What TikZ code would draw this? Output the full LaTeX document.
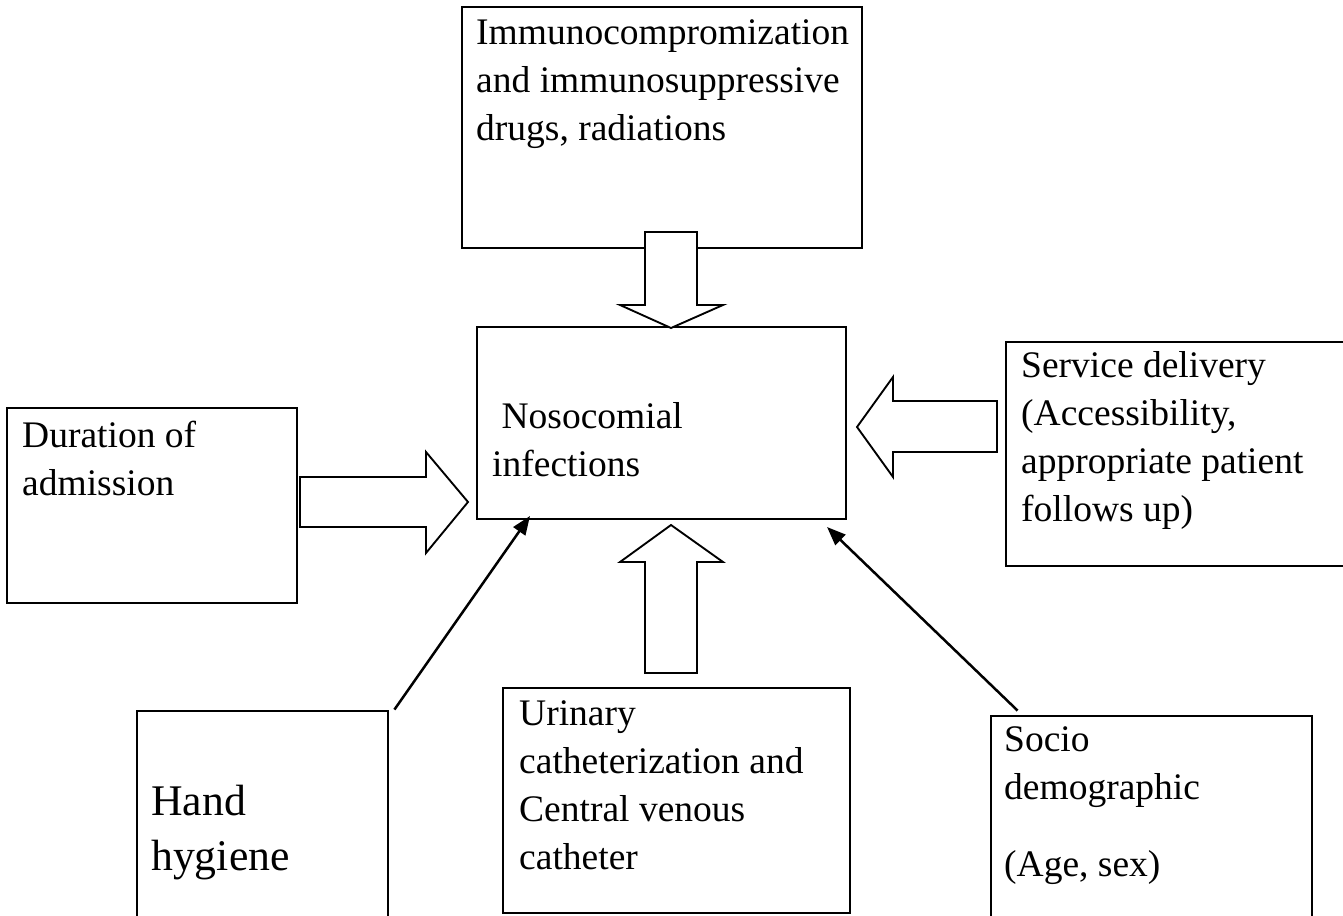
\documentclass[tikz,border=0pt]{standalone}
\usepackage{fontspec}
\setmainfont{Liberation Serif}
\usetikzlibrary{fit,arrows.meta}

\tikzset{
  factor/.style={draw, line width=0.9pt, inner sep=0pt},
  boxtext/.style={anchor=base west, inner sep=0pt, font=\fontsize{12}{15.4}\selectfont},
  bigtext/.style={boxtext, font=\fontsize{14}{17.6}\selectfont},
  hollow/.style={draw, fill=white, line width=0.6pt, line join=miter},
  pointer/.style={line width=0.8pt, -{Triangle[length=6pt,width=4.6pt]}}
}
\newcommand{\boxlines}[1]{\parbox[t]{150pt}{\raggedright #1}}

\begin{document}
\begin{tikzpicture}[x=0.32pt, y=-0.32pt]
  \useasboundingbox[fill=white] (0,0) rectangle (1343,915);
  \clip (0,0) rectangle (1343,915);

  % the boxes
  \node[factor, fit={(462,7) (862,248)}] (immuno) {};
  \node[factor, fit={(477,327) (846,519)}] (noso) {};
  \node[factor, fit={(7,408) (297,603)}] (duration) {};
  \node[factor, fit={(1006,342) (1360,566)}] (service) {};
  \node[factor, fit={(137,711) (388,935)}] (hand) {};
  \node[factor, fit={(503,688) (850,913)}] (urinary) {};
  \node[factor, fit={(991,716) (1312,935)}] (socio) {};

  % their texts
  \node[boxtext] (immunotxt) at ([shift={(15,39)}]immuno.north west)
    {\boxlines{Immunocompromization\\and immunosuppressive\\drugs, radiations}};
  \node[boxtext] (nosotxt) at ([shift={(16,103)}]noso.north west)
    {\boxlines{~Nosocomial\\infections}};
  \node[boxtext] (durationtxt) at ([shift={(16,41)}]duration.north west)
    {\boxlines{Duration of\\admission}};
  \node[boxtext] (servicetxt) at ([shift={(16,37)}]service.north west)
    {\boxlines{Service delivery\\(Accessibility,\\appropriate patient\\follows up)}};
  \node[bigtext] (handtxt) at ([shift={(15,106)}]hand.north west)
    {\boxlines{Hand\\hygiene}};
  \node[boxtext] (urinarytxt) at ([shift={(17,39)}]urinary.north west)
    {\boxlines{Urinary\\catheterization and\\Central venous\\catheter}};
  \node[boxtext] (sociotxt) at ([shift={(14,37)}]socio.north west)
    {\boxlines{Socio\\demographic\\[9.3pt](Age, sex)}};

  % block arrows
  \draw[hollow] (645,232) -- (697,232) -- (697,305) -- (723,305) -- (671,328)
    -- (620,305) -- (645,305) -- cycle;
  \draw[hollow] (300,477) -- (426,477) -- (426,452) -- (468,502) -- (426,553)
    -- (426,527) -- (300,527) -- cycle;
  \draw[hollow] (997,401) -- (893,401) -- (893,377) -- (857,427) -- (893,477)
    -- (893,452) -- (997,452) -- cycle;
  \draw[hollow] (645,673) -- (645,562) -- (620,562) -- (671,525) -- (723,562)
    -- (697,562) -- (697,673) -- cycle;

  % thin arrows
  \coordinate (handtip) at (530,516);
  \coordinate (sociotip) at (827,527);
  \draw[pointer] ([shift={(5,0)}]hand.north east) -- (handtip);
  \draw[pointer] ([shift={(28,-4)}]socio.north west) -- (sociotip);
\end{tikzpicture}
\end{document}
